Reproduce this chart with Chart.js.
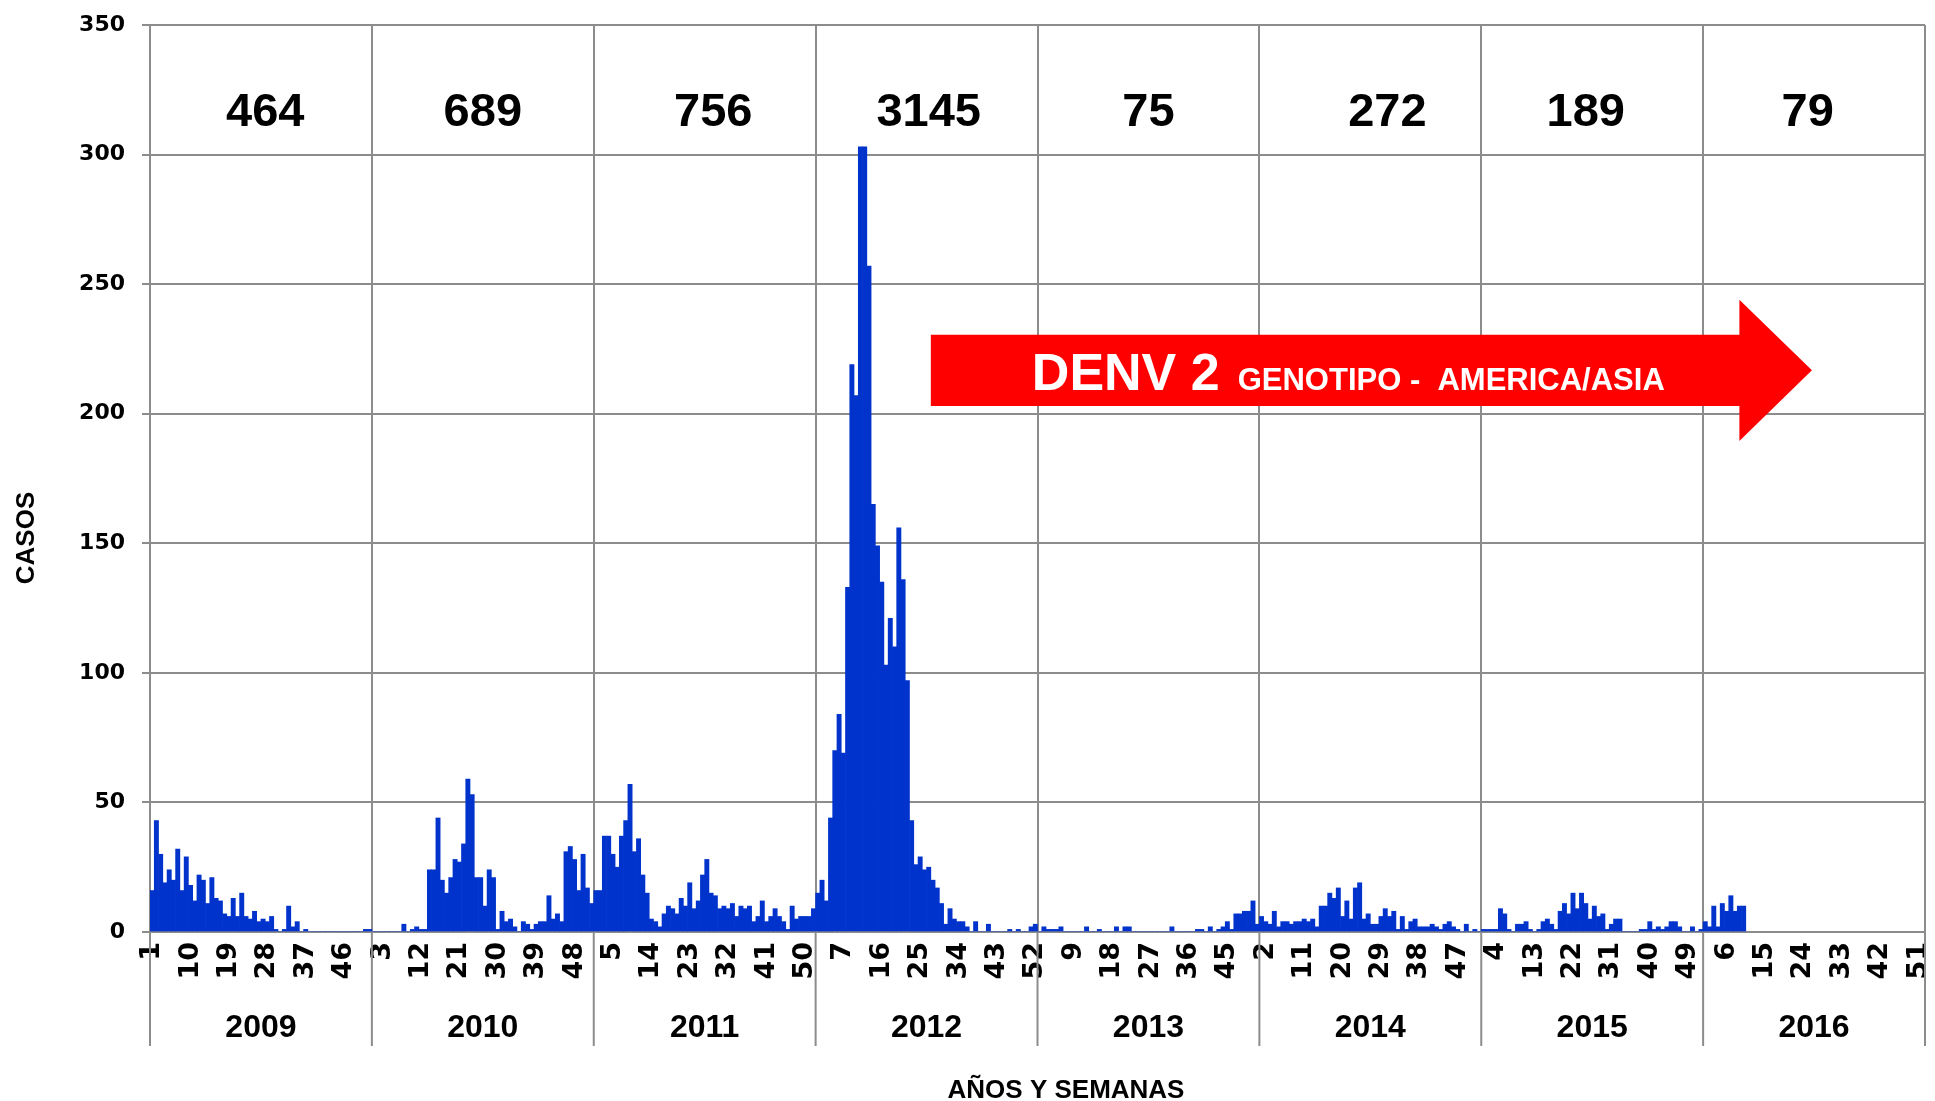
<!DOCTYPE html>
<html>
<head>
<meta charset="utf-8">
<script src="https://cdn.jsdelivr.net/npm/chart.js@4.4.0/dist/chart.umd.min.js"></script>
<style>
  html, body { margin: 0; padding: 0; background: #fff; }
  #wrap { width: 1935px; height: 1101px; }
</style>
</head>
<body>
<div id="wrap"><canvas id="chart" width="1935" height="1101"></canvas></div>
<script>
// weekly cases per year (semanas epidemiologicas)
const years = ['2009', '2010', '2011', '2012', '2013', '2014', '2015', '2016'];
const yearTotals = [464, 689, 756, 3145, 75, 272, 189, 79];
const weeksPerYear = 52;

const cases2009 = [16, 43, 30, 19, 24, 20, 32, 16, 29, 18, 12, 22, 20, 11, 21, 13, 12, 7, 6, 13, 6, 15, 6, 5, 8, 4,
  5, 4, 6, 1, 0, 1, 10, 2, 4, 0, 1, 0, 0, 0, 0, 0, 0, 0, 0, 0, 0, 0, 0, 0, 1, 1];
const cases2010 = [0, 0, 0, 0, 0, 0, 0, 3, 0, 1, 2, 1, 1, 24, 24, 44, 20, 15, 21, 28, 27, 34, 59, 53, 21, 21,
  10, 24, 21, 1, 8, 4, 5, 2, 0, 4, 3, 1, 3, 4, 4, 14, 5, 7, 4, 31, 33, 28, 16, 30, 17, 11];
const cases2011 = [16, 16, 37, 37, 30, 25, 37, 43, 57, 31, 36, 22, 15, 5, 4, 2, 7, 10, 9, 7, 13, 10, 19, 9, 12, 22,
  28, 15, 14, 9, 10, 9, 11, 6, 10, 9, 10, 4, 6, 12, 4, 6, 9, 6, 4, 1, 10, 5, 6, 6, 6, 9];
const cases2012 = [15, 20, 12, 44, 70, 84, 69, 133, 219, 207, 303, 303, 257, 165, 149, 135, 103, 121, 110, 156, 136, 97, 43, 26, 29, 24,
  25, 20, 17, 11, 3, 9, 5, 4, 4, 2, 0, 4, 0, 0, 3, 0, 0, 0, 0, 1, 0, 1, 0, 0, 2, 3];
const cases2013 = [0, 2, 1, 1, 1, 2, 0, 0, 0, 0, 0, 2, 0, 0, 1, 0, 0, 0, 2, 0, 2, 2, 0, 0, 0, 0,
  0, 0, 0, 0, 0, 2, 0, 0, 0, 0, 0, 1, 1, 0, 2, 0, 1, 2, 4, 1, 7, 7, 8, 8, 12, 3];
const cases2014 = [6, 4, 3, 8, 2, 4, 4, 3, 4, 4, 5, 4, 5, 2, 10, 10, 15, 13, 17, 6, 12, 5, 17, 19, 5, 7,
  3, 3, 6, 9, 6, 8, 1, 6, 1, 4, 5, 2, 2, 2, 3, 2, 1, 3, 4, 2, 1, 0, 3, 0, 1, 0];
const cases2015 = [1, 1, 1, 1, 9, 7, 1, 0, 3, 3, 4, 1, 0, 1, 4, 5, 3, 1, 8, 11, 7, 15, 9, 15, 11, 5,
  10, 6, 7, 1, 3, 5, 5, 0, 0, 0, 0, 1, 1, 4, 1, 2, 1, 2, 4, 4, 2, 0, 0, 2, 0, 1];
const cases2016 = [4, 2, 10, 2, 11, 8, 14, 8, 10, 10];

const yTicks = [0, 50, 100, 150, 200, 250, 300, 350];
const weekLabelStep = 9;
const arrowTitle = 'DENV 2';
const arrowSubtitle = 'GENOTIPO -  AMERICA/ASIA';

const FONT = '"Liberation Sans", Arial, sans-serif';
const TICK_FONT = '"DejaVu Sans", "Liberation Sans", sans-serif';

// one label per week, 52 per year
const labels = [];
years.forEach(() => {
  for (let w = 1; w <= weeksPerYear; w++) labels.push(String(w));
});
const byYear = [cases2009, cases2010, cases2011, cases2012, cases2013, cases2014, cases2015, cases2016];
const values = [];
byYear.forEach(arr => {
  for (let w = 0; w < weeksPerYear; w++) values.push(w < arr.length ? arr[w] : null);
});

const GRID = '#8c8c8c';

const decorations = {
  id: 'decorations',
  afterDraw(chart) {
    const { ctx, chartArea, scales } = chart;
    const xs = scales.x, ys = scales.y;
    const half = (xs.getPixelForValue(1) - xs.getPixelForValue(0)) / 2;
    const bounds = years.map((_, k) => xs.getPixelForValue(k * weeksPerYear) - half);
    bounds.push(xs.getPixelForValue(labels.length - 1) + half);

    ctx.save();
    // year separators below the axis
    ctx.strokeStyle = GRID;
    ctx.lineWidth = 2;
    bounds.forEach(x => {
      ctx.beginPath();
      ctx.moveTo(x, chartArea.bottom);
      ctx.lineTo(x, 1046);
      ctx.stroke();
    });

    // year names and totals
    const totalShift = [1, 0, 2, 0.5, 0, 4, -1.5, -1.5];
    ctx.fillStyle = '#000';
    ctx.textAlign = 'center';
    ctx.textBaseline = 'middle';
    years.forEach((y, k) => {
      const cx = (bounds[k] + bounds[k + 1]) / 2;
      ctx.font = 'bold 32px ' + FONT;
      ctx.fillText(y, cx, 1028);
      ctx.font = 'bold 47px ' + FONT;
      ctx.fillText(String(yearTotals[k]), cx + totalShift[k] * half * 2, ys.getPixelForValue(316));
    });

    // arrow
    const x0 = xs.getPixelForValue(183) - half;
    const xh = xs.getPixelForValue(372);
    const xt = xs.getPixelForValue(389);
    const bt = ys.getPixelForValue(230.5), bb = ys.getPixelForValue(203);
    const ht = ys.getPixelForValue(244), hb = ys.getPixelForValue(189.5);
    ctx.fillStyle = '#ff0000';
    ctx.beginPath();
    ctx.moveTo(x0, bt);
    ctx.lineTo(xh, bt);
    ctx.lineTo(xh, ht);
    ctx.lineTo(xt, (bt + bb) / 2);
    ctx.lineTo(xh, hb);
    ctx.lineTo(xh, bb);
    ctx.lineTo(x0, bb);
    ctx.closePath();
    ctx.fill();

    ctx.fillStyle = '#fff';
    ctx.textAlign = 'left';
    ctx.textBaseline = 'alphabetic';
    ctx.font = 'bold 52px ' + FONT;
    ctx.fillText(arrowTitle, x0 + 101, bb - 16);
    const w1 = ctx.measureText(arrowTitle).width;
    ctx.font = 'bold 31px ' + FONT;
    ctx.fillText(arrowSubtitle, x0 + 101 + w1 + 18, bb - 16);

    // axis titles
    ctx.fillStyle = '#000';
    ctx.textAlign = 'center';
    ctx.font = 'bold 26px ' + FONT;
    ctx.fillText('AÑOS Y SEMANAS', 1066, 1098);
    ctx.translate(27, 538);
    ctx.rotate(-Math.PI / 2);
    ctx.textBaseline = 'middle';
    ctx.fillText('CASOS', 0, 0);
    ctx.restore();
  }
};

new Chart(document.getElementById('chart').getContext('2d'), {
  type: 'bar',
  data: {
    labels: labels,
    datasets: [{
      label: 'Casos',
      data: values,
      backgroundColor: '#0033cc',
      borderWidth: 0,
      categoryPercentage: 1.0,
      barPercentage: 1.0
    }]
  },
  options: {
    responsive: false,
    animation: false,
    layout: { padding: { left: 10, right: 10, top: 25, bottom: 0 } },
    scales: {
      x: {
        grid: {
          offset: true,
          drawTicks: false,
          lineWidth: 2,
          color: c => (c.index === undefined || c.index % weeksPerYear === 0 || c.index >= labels.length) ? GRID : 'rgba(0,0,0,0)'
        },
        border: { color: GRID, width: 2 },
        ticks: {
          autoSkip: false,
          minRotation: 90,
          maxRotation: 90,
          padding: 10,
          color: '#000',
          font: { family: TICK_FONT, size: 27, weight: 'bold' },
          callback: (v, i) => (i % weekLabelStep === 0 ? labels[i] : '')
        },
        afterFit: s => { s.height = 169; s.paddingLeft = 0; s.paddingRight = 0; }
      },
      y: {
        min: 0,
        max: 350,
        grid: { color: GRID, lineWidth: 2, tickLength: 8 },
        border: { color: GRID, width: 2 },
        afterBuildTicks: s => { s.ticks = yTicks.map(v => ({ value: v })); },
        ticks: {
          padding: 17,
          color: '#000',
          font: { family: TICK_FONT, size: 22, weight: 'bold' }
        },
        afterFit: s => { s.width = 140; s.paddingTop = 0; s.paddingBottom = 0; }
      }
    },
    plugins: {
      legend: { display: false },
      tooltip: { enabled: false }
    }
  },
  plugins: [decorations]
});
</script>
</body>
</html>
